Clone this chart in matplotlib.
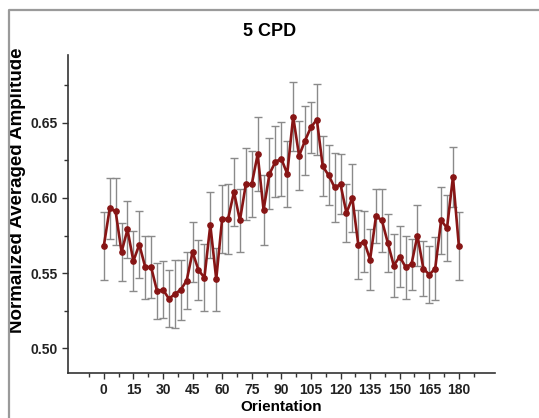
import matplotlib.pyplot as plt
from matplotlib.lines import Line2D
from matplotlib.ticker import FixedLocator

# Orientation in degrees, sampled every 3 degrees
orientation = list(range(0, 181, 3))

amplitude = [
    0.568, 0.593, 0.591, 0.564, 0.579, 0.558, 0.569, 0.554, 0.554, 0.538,
    0.539, 0.533, 0.536, 0.539, 0.545, 0.564, 0.552, 0.547, 0.582, 0.546,
    0.586, 0.586, 0.604, 0.585, 0.609, 0.609, 0.629, 0.592, 0.616, 0.624,
    0.626, 0.616, 0.654, 0.628, 0.638, 0.647, 0.652, 0.621, 0.615, 0.607,
    0.609, 0.590, 0.600, 0.569, 0.571, 0.559, 0.588, 0.585, 0.570, 0.555,
    0.561, 0.554, 0.556, 0.575, 0.553, 0.549, 0.553, 0.585, 0.580, 0.614,
    0.568,
]

errors = [
    0.0225, 0.020, 0.0225, 0.019, 0.019, 0.020, 0.0225, 0.021, 0.0205, 0.0185,
    0.019, 0.019, 0.0225, 0.020, 0.019, 0.020, 0.020, 0.0225, 0.022, 0.021,
    0.0225, 0.023, 0.0225, 0.021, 0.024, 0.022, 0.0245, 0.023, 0.0235, 0.0235,
    0.0245, 0.022, 0.023, 0.023, 0.023, 0.017, 0.0235, 0.020, 0.020, 0.023,
    0.020, 0.0195, 0.0225, 0.023, 0.020, 0.0205, 0.018, 0.021, 0.0195, 0.021,
    0.0205, 0.021, 0.017, 0.0205, 0.0185, 0.019, 0.021, 0.022, 0.022, 0.020,
    0.0225,
]

x_ticks = list(range(0, 181, 15))
y_ticks = [0.50, 0.55, 0.60, 0.65]

plt.rcParams['font.family'] = ['Liberation Sans', 'DejaVu Sans']
plt.rcParams['font.weight'] = 'bold'

fig = plt.figure(figsize=(5.39, 4.18), dpi=100)
ax = fig.add_axes([0.1256, 0.1077, 0.7927, 0.7607])

# light gray frame: only its top and left edges fall inside the picture
fx, fy = 9 / 539, 1 - 10 / 418
fig.lines.append(Line2D([fx, fx, 1.0], [0.0, fy, fy], transform=fig.transFigure,
                        color='#9a9a9a', linewidth=1.6))

ax.errorbar(orientation, amplitude, yerr=errors, color='#871515',
            linewidth=1.9, marker='o', markersize=3.8,
            ecolor='#8a8a8a', elinewidth=1.0, capsize=3, capthick=1.0)

ax.set_xlim(-18.3, 198.3)
ax.set_ylim(0.4836, 0.695)
ax.set_xticks(x_ticks)
ax.set_yticks(y_ticks)
ax.set_yticklabels([f"{v:.2f}" for v in y_ticks])
ax.xaxis.set_minor_locator(FixedLocator([t + 7.5 for t in range(-15, 181, 15)]))
ax.yaxis.set_minor_locator(FixedLocator([0.525, 0.575, 0.625, 0.675]))
ax.tick_params(which='major', length=4, width=1, labelsize=10, colors='#333333')
ax.tick_params(which='minor', length=3, width=1, colors='#333333')
for lab in ax.get_xticklabels() + ax.get_yticklabels():
    lab.set_fontweight('bold')
    lab.set_color('#222222')

ax.spines['top'].set_visible(False)
ax.spines['right'].set_visible(False)
ax.spines['left'].set_color('#333333')
ax.spines['bottom'].set_color('#333333')
ax.spines['left'].set_linewidth(1.2)
ax.spines['bottom'].set_linewidth(1.2)

ax.set_xlabel("Orientation", fontsize=11, fontweight='bold', labelpad=2)
ax.set_ylabel("Normalized Averaged Amplitude", fontsize=13.5, fontweight='bold')
ax.yaxis.set_label_coords(-0.097, 0.5 + 24 / 318)
fig.text(0.5, 1 - 32 / 418, "5 CPD", ha='center', va='center',
         fontsize=13, fontweight='bold')

fig.savefig("out.png", dpi=100)
